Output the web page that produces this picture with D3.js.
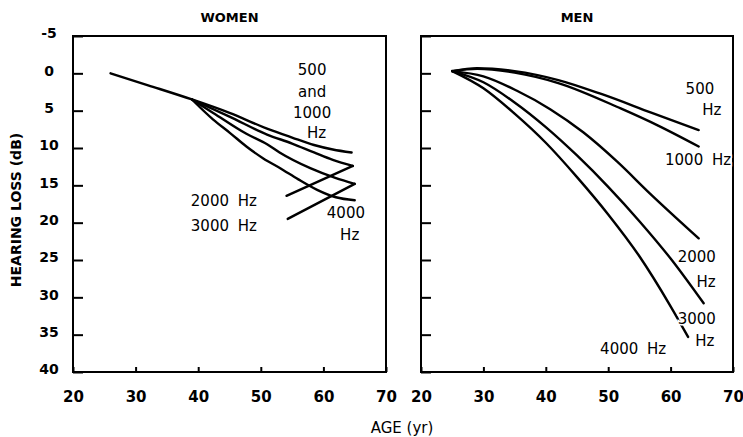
<!DOCTYPE html>
<html>
<head>
<meta charset="utf-8">
<script src="https://cdnjs.cloudflare.com/ajax/libs/d3/7.8.5/d3.min.js"></script>
<style>
  body { margin: 0; background: #fff; }
  text { font-family: "DejaVu Sans", sans-serif; fill: #000; }
</style>
</head>
<body>
<div id="chart"></div>
<script>
// ages on x, hearing loss (dB) on y (inverted)
var ageTicks = [20, 30, 40, 50, 60, 70];
var dbTicks = [-5, 0, 5, 10, 15, 20, 25, 30, 35, 40];

// WOMEN  [age, dB]
var women500_1000 = [[26,0],[32,1.6],[39,3.5],[45,5.3],[51,7.4],[55,8.6],[58.5,9.6],[61.5,10.2],[64.5,10.6]];
var women2000 = [[39,3.5],[45,5.8],[51,8.2],[55,9.4],[58.5,10.6],[61.5,11.6],[64.7,12.4]];
var women3000 = [[39,3.5],[42.4,5.3],[47.7,8.1],[51,9.5],[53,10.6],[57.9,12.7],[61.9,14.0],[65,14.8]];
var women4000 = [[39,3.5],[42.4,6.2],[45.1,8.0],[47.7,9.8],[50.4,11.4],[53.1,12.7],[56,14.2],[59,15.6],[62,16.6],[65,17.0]];
var womenLeader2000 = [[54.1,16.4],[64.7,12.4]];
var womenLeader3000 = [[54.3,19.5],[65,14.8]];

// MEN  [age, dB]
var men500 = [[25,-0.3],[29,-0.7],[35,-0.3],[42,0.9],[49,2.8],[57,5.3],[64.5,7.6]];
var men1000 = [[25,-0.3],[29,-0.6],[35,-0.1],[42,1.3],[52,4.7],[58,7.0],[64.5,9.8]];
var men2000 = [[25,-0.3],[30,0.4],[35.3,2.3],[40.7,4.8],[46,7.9],[51.4,11.8],[56.7,16.1],[64.5,22.1]];
var men3000 = [[25,-0.3],[30,1.2],[35,3.9],[40,7.2],[45,11.0],[50,15.2],[55,19.8],[60,24.8],[65.3,30.8]];
var men4000 = [[25,-0.3],[30,2.0],[35,5.4],[40,9.3],[45,13.9],[50,18.9],[55,24.5],[60,31.2],[62.8,35.3]];

// labels [text, age, dB]
var womenLabels = [["500",58.2,-0.5],["and",58.2,2.4],["1000",58.2,5.2],["Hz",58.9,8.0],
                   ["2000 Hz",44.1,17.1],["3000 Hz",44.1,20.4],["4000",63.6,18.6],["Hz",64.2,21.6]];
var menLabels = [["500",64.7,2.0],["Hz",66.6,4.9],["1000 Hz",64.4,11.5],["2000",64.2,24.6],["Hz",65.7,27.9],
                 ["3000",64.2,32.8],["Hz",65.5,35.8],["4000 Hz",54.0,36.9]];

var width = 743, height = 437;
var svg = d3.select("#chart").append("svg")
    .attr("width", width)
    .attr("height", height);

var y = d3.scaleLinear().domain([-5, 40]).range([36, 372]);

function drawPanel(x0, x1, title, curves, leaders, labels, showY) {
    var x = d3.scaleLinear().domain([20, 70]).range([x0, x1]);
    var g = svg.append("g");

    var line = d3.line()
        .x(function(d){ return x(d[0]); })
        .y(function(d){ return y(d[1]); })
        .curve(d3.curveMonotoneX);
    var straight = d3.line()
        .x(function(d){ return x(d[0]); })
        .y(function(d){ return y(d[1]); });

    // y ticks (inward)
    var yAxis = d3.axisLeft(y).tickValues(dbTicks).tickSize(-10)
        .tickFormat(function(d){ return String(d); });
    if (!showY) yAxis.tickFormat("");
    var ya = g.append("g").attr("transform", "translate(" + x0 + ",0)").call(yAxis);
    ya.select(".domain").remove();
    ya.selectAll("line").attr("stroke", "#000").attr("stroke-width", 2);
    ya.selectAll("text")
        .attr("x", -24)
        .attr("dy", "0.14em")
        .attr("text-anchor", "middle")
        .style("font-size", "14px")
        .style("font-weight", "bold");

    // x ticks (inward)
    var xAxis = d3.axisBottom(x).tickValues(ageTicks).tickSize(-5).tickPadding(19);
    var xa = g.append("g").attr("transform", "translate(0," + y(40) + ")").call(xAxis);
    xa.select(".domain").remove();
    xa.selectAll("line").attr("stroke", "#000").attr("stroke-width", 2);
    xa.selectAll("text")
        .style("font-size", "15px")
        .style("font-weight", "bold");

    // frame
    g.append("rect")
        .attr("x", x0).attr("y", y(-5))
        .attr("width", x1 - x0).attr("height", y(40) - y(-5))
        .attr("fill", "none").attr("stroke", "#000").attr("stroke-width", 2);

    g.selectAll("path.curve")
        .data(curves)
        .enter().append("path")
        .attr("class", "curve")
        .attr("d", line)
        .attr("fill", "none")
        .attr("stroke", "#000")
        .attr("stroke-width", 2.4)
        .attr("stroke-linecap", "round");

    g.selectAll("path.leader")
        .data(leaders)
        .enter().append("path")
        .attr("class", "leader")
        .attr("d", straight)
        .attr("fill", "none")
        .attr("stroke", "#000")
        .attr("stroke-width", 2.4)
        .attr("stroke-linecap", "round");

    g.selectAll("text.lab")
        .data(labels)
        .enter().append("text")
        .attr("class", "lab")
        .attr("x", function(d){ return x(d[1]); })
        .attr("y", function(d){ return y(d[2]); })
        .attr("dy", "0.36em")
        .attr("text-anchor", "middle")
        .style("font-size", "15px")
        .style("word-spacing", "4px")
        .style("paint-order", "stroke")
        .style("stroke", "#fff")
        .style("stroke-width", 3)
        .text(function(d){ return d[0]; });

    svg.append("text")
        .attr("x", (x0 + x1) / 2)
        .attr("y", 22)
        .attr("text-anchor", "middle")
        .style("font-size", "13px")
        .style("font-weight", "bold")
        .text(title);
}

drawPanel(73, 386, "WOMEN",
    [women500_1000, women2000, women3000, women4000],
    [womenLeader2000, womenLeader3000], womenLabels, true);
drawPanel(421, 733, "MEN",
    [men500, men1000, men2000, men3000, men4000],
    [], menLabels, false);

svg.append("text")
    .attr("x", 402).attr("y", 433)
    .attr("text-anchor", "middle")
    .style("font-size", "15px")
    .text("AGE (yr)");

svg.append("text")
    .attr("transform", "translate(21,210) rotate(-90)")
    .attr("text-anchor", "middle")
    .style("font-size", "14px")
    .style("font-weight", "bold")
    .text("HEARING LOSS (dB)");
</script>
</body>
</html>
